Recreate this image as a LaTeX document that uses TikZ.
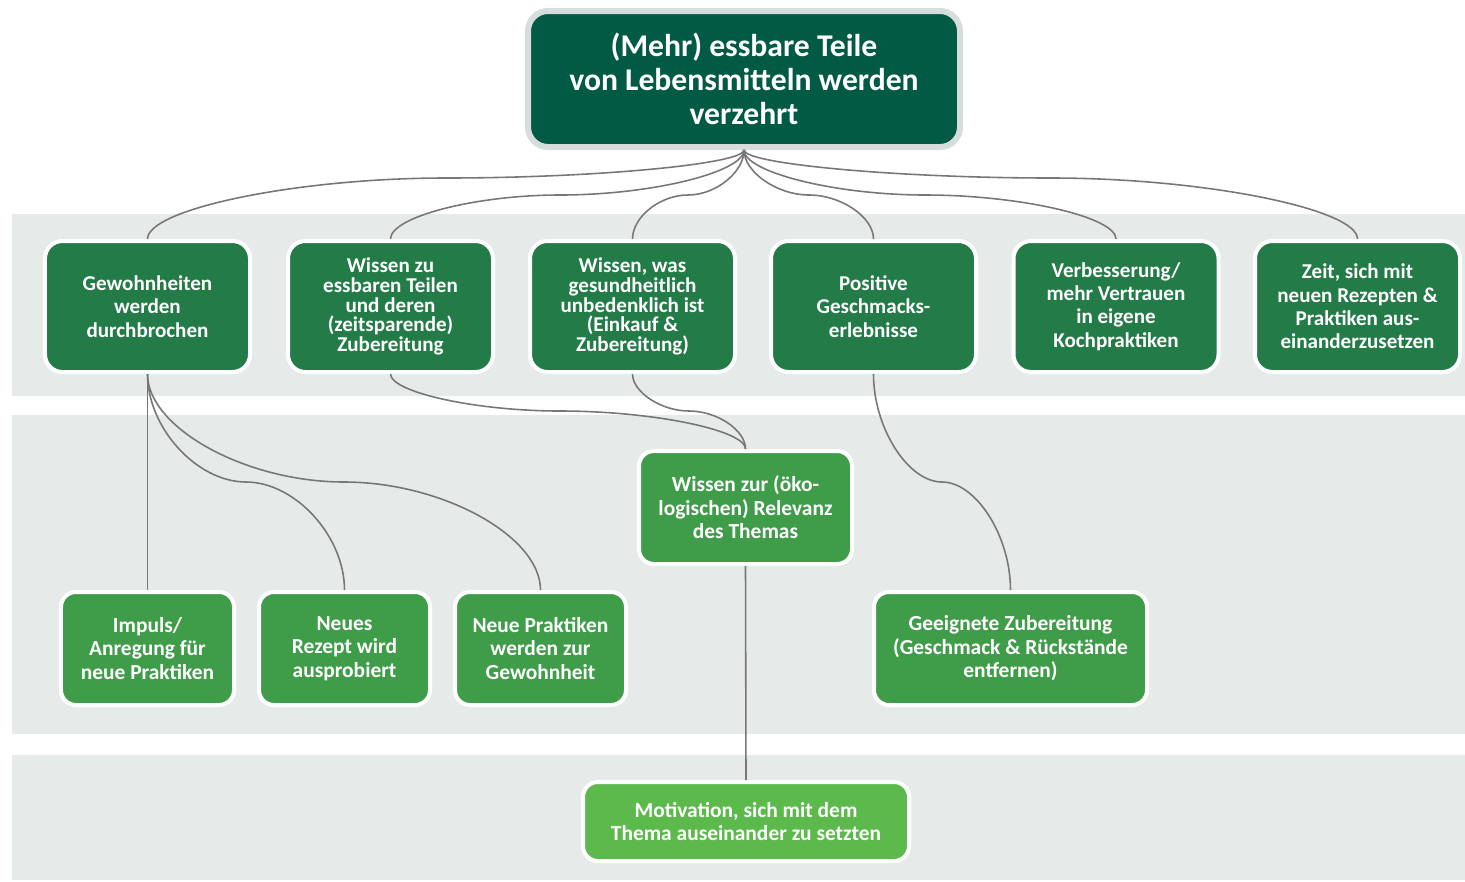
\documentclass[tikz,border=0pt]{standalone}
\usepackage{fontspec}
\setmainfont{Carlito}
\setlength{\lineskiplimit}{-10pt}
\definecolor{rootgreen}{HTML}{005A44}
\definecolor{rootrim}{HTML}{D6DDDC}
\definecolor{darkgreen}{HTML}{237C47}
\definecolor{midgreen}{HTML}{3F9D49}
\definecolor{lightgreen}{HTML}{5CB94C}
\definecolor{bandgray}{HTML}{E6EBEA}
\definecolor{linegray}{HTML}{777777}

\begin{document}
\begin{tikzpicture}[x=0.2mm,y=-0.2mm, edge/.style={draw=linegray, line width=0.9pt}]
    \tikzstyle{root node}=[rounded corners=0.4cm,fill=rootgreen,draw=rootrim,line width=0.12cm,minimum width=8.64cm,minimum height=2.72cm,text=white,align=center,font=\bfseries\fontsize{18}{19.4}\selectfont]
    \tikzstyle{first node}=[rounded corners=0.35cm,fill=darkgreen,draw=white,line width=0.08cm,minimum width=4.1cm,minimum height=2.62cm,text=white,align=center,font=\bfseries\fontsize{12}{13.3}\selectfont]
    \tikzstyle{tight}=[font=\bfseries\fontsize{12}{11.3}\selectfont]
    \tikzstyle{second node}=[rounded corners=0.3cm,fill=midgreen,draw=white,line width=0.08cm,minimum height=2.26cm,text=white,align=center,font=\bfseries\fontsize{12.2}{13.4}\selectfont]
    \tikzstyle{third node}=[rounded corners=0.3cm,fill=lightgreen,draw=white,line width=0.08cm,minimum width=6.52cm,minimum height=1.58cm,text=white,align=center,font=\bfseries\fontsize{12.2}{13.4}\selectfont]

    \useasboundingbox (0,0) rectangle (1465,881);
    % levels
    \fill[bandgray] (12,214) rectangle (1465,396);
    \fill[bandgray] (12,415) rectangle (1465,734);
    \fill[bandgray] (12,755) rectangle (1465,880);

    \node(0)[root node] at (744,79) {(Mehr) essbare Teile\\von Lebensmitteln werden\\verzehrt};

    \node(1)[first node] at (147.5,306.5) {Gewohnheiten\\werden\\durchbrochen};
    \node(2)[first node,tight] at (390.5,306.5) {Wissen zu\\essbaren Teilen\\und deren\\(zeitsparende)\\Zubereitung};
    \node(3)[first node,tight] at (632.5,306.5) {Wissen, was\\gesundheitlich\\unbedenklich ist\\(Einkauf \&\\Zubereitung)};
    \node(4)[first node] at (873.5,306.5) {Positive\\Geschmacks-\\erlebnisse};
    \node(5)[first node] at (1116,306.5) {Verbesserung/\\mehr Vertrauen\\in eigene\\Kochpraktiken};
    \node(6)[first node] at (1357.5,306.5) {Zeit, sich mit\\neuen Rezepten \&\\Praktiken aus-\\einanderzusetzen};

    \node(7)[second node,minimum width=3.46cm] at (147.5,648.5) {Impuls/\\Anregung für\\neue Praktiken};
    \node(8)[second node,minimum width=3.42cm] at (344.5,648.5) {Neues\\Rezept wird\\ausprobiert};
    \node(9)[second node,minimum width=3.42cm] at (540.5,648.5) {Neue Praktiken\\werden zur\\Gewohnheit};
    \node(10)[second node,minimum width=4.26cm] at (745.5,507.5) {Wissen zur (öko-\\logischen) Relevanz\\des Themas};
    \node(11)[second node,minimum width=5.46cm] at (1010.5,648.5) {Geeignete Zubereitung\\(Geschmack \& Rückstände\\entfernen)};

    \node(12)[third node] at (746,821.5) {Motivation, sich mit dem\\Thema auseinander zu setzten};

    % root to first level
    \draw[edge] (0.south) .. controls +(0,14) and +(149,0) .. (446,178) .. controls +(-149,0) and +(0,-30) .. (1.north);
    \draw[edge] (0.south) .. controls +(0,22) and +(92,0) .. (560,195) .. controls +(-85,0) and +(0,-22) .. (2.north);
    \draw[edge] (0.south) .. controls +(0,22) and +(28,0) .. (688,195) .. controls +(-28,0) and +(0,-22) .. (3.north);
    \draw[edge] (0.south) .. controls +(0,22) and +(-32,0) .. (809,195) .. controls +(32,0) and +(0,-22) .. (4.north);
    \draw[edge] (0.south) .. controls +(0,22) and +(-90,0) .. (925,195) .. controls +(95,0) and +(0,-22) .. (5.north);
    \draw[edge] (0.south) .. controls +(0,14) and +(-153,0) .. (1051,178) .. controls +(153,0) and +(0,-30) .. (6.north);

    % lower levels
    \draw[edge] (1.south) -- (7.north);
    \draw[edge] (1.south) .. controls +(0,54) and +(-49,0) .. (246,482) .. controls +(49,0) and +(0,-54) .. (8.north);
    \draw[edge] (1.south) .. controls +(0,54) and +(-98,0) .. (344,482) .. controls +(98,0) and +(0,-54) .. (9.north);
    \draw[edge] (2.south) .. controls +(0,18) and +(-85,0) .. (560,411) .. controls +(92,0) and +(0,-19) .. (10.north);
    \draw[edge] (3.south) .. controls +(0,18) and +(-28,0) .. (689,411) .. controls +(28,0) and +(0,-19) .. (10.north);
    \draw[edge] (4.south) .. controls +(0,54) and +(-34,0) .. (942,482) .. controls +(34,0) and +(0,-54) .. (11.north);
    \draw[edge] (10.south) -- (12.north);
\end{tikzpicture}
\end{document}
